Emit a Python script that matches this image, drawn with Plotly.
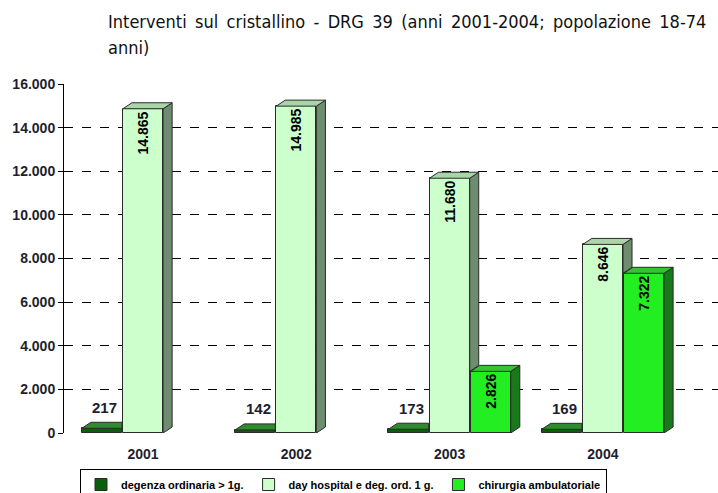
import plotly.graph_objects as go

years = ["2001", "2002", "2003", "2004"]
degenza = [217, 142, 173, 169]
day_hospital = [14865, 14985, 11680, 8646]
chirurgia = [None, None, 2826, 7322]
series_names = ["degenza ordinaria > 1g.", "day hospital e deg. ord. 1 g.", "chirurgia ambulatoriale"]
y_ticks = list(range(0, 16001, 2000))
title_lines = ["Interventi sul cristallino - DRG 39 (anni 2001-2004; popolazione 18-74", "anni)"]


def fmt(v):
    return f"{v:,}".replace(",", ".")


idx = list(range(len(years)))
W = 0.262
OFF = 0.268
DX = 0.059
DY = 275

front = ["#0b5e0b", "#ccffcc", "#22ee22"]
top = ["#2e8b2e", "#a9d6a9", "#33c433"]
side = ["#0a4a0a", "#6e8c6e", "#1a7a1a"]
edge = "#2a2a2a"

fig = go.Figure()

# front faces
fig.add_trace(go.Bar(
    x=[i - OFF for i in idx], y=degenza, width=W, name=series_names[0],
    marker=dict(color=front[0], line=dict(color=edge, width=1)), hoverinfo="skip"))
fig.add_trace(go.Bar(
    x=idx, y=day_hospital, width=W, name=series_names[1],
    marker=dict(color=front[1], line=dict(color=edge, width=1)),
    text=[fmt(v) for v in day_hospital], textposition="inside", insidetextanchor="end",
    textangle=-90, constraintext="none",
    textfont=dict(family="Liberation Sans", size=14, color="black", weight="bold"),
    hoverinfo="skip"))
fig.add_trace(go.Bar(
    x=[i + OFF for i in idx], y=chirurgia, width=W, name=series_names[2],
    marker=dict(color=front[2], line=dict(color=edge, width=1)),
    text=[fmt(v) if v else "" for v in chirurgia], textposition="inside", insidetextanchor="end",
    textangle=-90, constraintext="none",
    textfont=dict(family="Liberation Sans", size=14, color="black", weight="bold"),
    hoverinfo="skip"))


def poly(xs, ys, color):
    fig.add_trace(go.Scatter(
        x=xs + [xs[0]], y=ys + [ys[0]], mode="lines", fill="toself", fillcolor=color,
        line=dict(color=edge, width=1), showlegend=False, hoverinfo="skip"))


for i in idx:
    # degenza: only top face visible
    c = i - OFF
    l, r, v = c - W / 2, c + W / 2, degenza[i]
    poly([l, l + DX, r, r], [v, v + DY, v + DY, v], top[0])

    # day hospital
    c = i
    l, r, v = c - W / 2, c + W / 2, day_hospital[i]
    g = chirurgia[i] or 0
    poly([r, r + DX, r + DX, r], [g, g + DY, v + DY, v], side[1])
    poly([l, l + DX, r + DX, r], [v, v + DY, v + DY, v], top[1])

    # chirurgia
    if chirurgia[i]:
        c = i + OFF
        l, r, v = c - W / 2, c + W / 2, chirurgia[i]
        poly([r, r + DX, r + DX, r], [0, DY, v + DY, v], side[2])
        poly([l, l + DX, r + DX, r], [v, v + DY, v + DY, v], top[2])

# labels for degenza
for i in idx:
    fig.add_annotation(x=i - OFF + 0.02, y=degenza[i], text=fmt(degenza[i]), showarrow=False,
                       yanchor="middle", yshift=21,
                       font=dict(family="Liberation Sans", size=15, color="#1e1e2e", weight="bold"))

# title
title_font = dict(family="DejaVu Sans Condensed", size=18, color="#111111")
fig.add_annotation(xref="paper", yref="paper", x=(106 - 64) / 654, y=1 + (84 - 22) / 349,
                   xanchor="left", yanchor="middle", showarrow=False,
                   text=title_lines[0].replace(" ", "\u2009 "),
                   font=title_font)
fig.add_annotation(xref="paper", yref="paper", x=(106 - 64) / 654, y=1 + (84 - 47) / 349,
                   xanchor="left", yanchor="middle", showarrow=False, text=title_lines[1], font=title_font)

fig.update_layout(
    width=718, height=493,
    margin=dict(l=64, r=0, t=84, b=60, autoexpand=False),
    paper_bgcolor="white", plot_bgcolor="white",
    barmode="overlay", bargap=0,
    separators=",.",
    showlegend=True,
    legend=dict(orientation="h", x=(80 - 64) / 654, y=-(469 - 433) / 349,
                xanchor="left", yanchor="top", bgcolor="white",
                bordercolor="black", borderwidth=1, itemwidth=30,
                font=dict(family="Liberation Sans", size=11, color="black", weight="bold"),
                tracegroupgap=0),
    xaxis=dict(range=[-(143 - 64) / 153.3, (718 - 143) / 153.3],
               tickvals=idx, ticktext=years, showgrid=False, zeroline=False,
               showline=False, ticks="outside", ticklen=8, tickcolor="rgba(0,0,0,0)",
               tickfont=dict(family="Liberation Sans", size=14, color="#1e1e2e", weight="bold")),
    yaxis=dict(range=[0, 16000], tickvals=y_ticks, ticktext=[fmt(v) for v in y_ticks],
               showgrid=True, gridcolor="black", griddash="dash", gridwidth=1,
               zeroline=False, showline=True, linecolor="black", linewidth=1,
               ticks="outside", ticklen=5, tickcolor="black",
               tickfont=dict(family="Liberation Sans", size=14, color="#1e1e2e", weight="bold")),
)

fig.write_html("out.html")
